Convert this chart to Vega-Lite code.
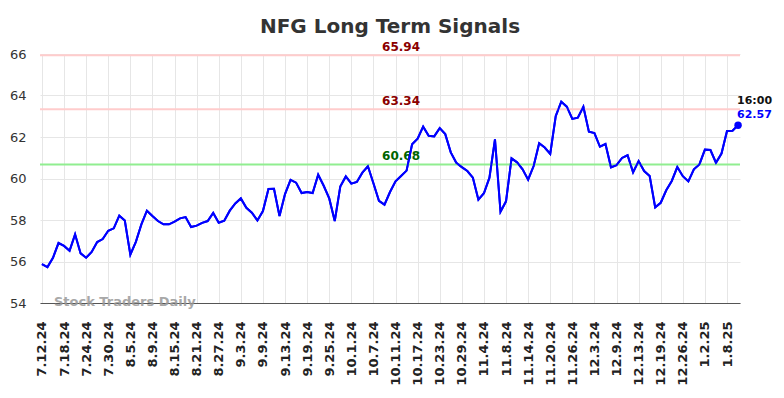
{
  "$schema": "https://vega.github.io/schema/vega-lite/v6.json",
  "width": 700,
  "height": 249,
  "autosize": {"type": "none"},
  "padding": {"left": 40, "top": 54, "right": 44, "bottom": 95},
  "background": "white",
  "title": {"text": "NFG Long Term Signals", "fontSize": 20, "font": "DejaVu Sans", "fontWeight": "bold", "color": "#333333", "anchor": "middle", "baseline": "alphabetic", "offset": -12},
  "config": {"view": {"stroke": null}, "font": "DejaVu Sans"},
  "datasets": {
    "prices": [
      {"d": "7.12.24", "v": 55.87}, {"d": "7.15.24", "v": 55.73}, {"d": "7.16.24", "v": 56.18}, {"d": "7.17.24", "v": 56.89},
      {"d": "7.18.24", "v": 56.75}, {"d": "7.19.24", "v": 56.52}, {"d": "7.22.24", "v": 57.31}, {"d": "7.23.24", "v": 56.39},
      {"d": "7.24.24", "v": 56.18}, {"d": "7.25.24", "v": 56.46}, {"d": "7.26.24", "v": 56.94}, {"d": "7.29.24", "v": 57.08},
      {"d": "7.30.24", "v": 57.48}, {"d": "7.31.24", "v": 57.60}, {"d": "8.1.24", "v": 58.21}, {"d": "8.2.24", "v": 57.97},
      {"d": "8.5.24", "v": 56.33}, {"d": "8.6.24", "v": 56.95}, {"d": "8.7.24", "v": 57.79}, {"d": "8.8.24", "v": 58.45},
      {"d": "8.9.24", "v": 58.19}, {"d": "8.12.24", "v": 57.95}, {"d": "8.13.24", "v": 57.79}, {"d": "8.14.24", "v": 57.79},
      {"d": "8.15.24", "v": 57.92}, {"d": "8.16.24", "v": 58.08}, {"d": "8.19.24", "v": 58.14}, {"d": "8.20.24", "v": 57.66},
      {"d": "8.21.24", "v": 57.73}, {"d": "8.22.24", "v": 57.86}, {"d": "8.23.24", "v": 57.95}, {"d": "8.26.24", "v": 58.34},
      {"d": "8.27.24", "v": 57.87}, {"d": "8.28.24", "v": 57.97}, {"d": "8.29.24", "v": 58.45}, {"d": "8.30.24", "v": 58.80},
      {"d": "9.3.24", "v": 59.04}, {"d": "9.4.24", "v": 58.59}, {"d": "9.5.24", "v": 58.35}, {"d": "9.6.24", "v": 57.98},
      {"d": "9.9.24", "v": 58.43}, {"d": "9.10.24", "v": 59.49}, {"d": "9.11.24", "v": 59.50}, {"d": "9.12.24", "v": 58.19},
      {"d": "9.13.24", "v": 59.25}, {"d": "9.16.24", "v": 59.93}, {"d": "9.17.24", "v": 59.80}, {"d": "9.18.24", "v": 59.30},
      {"d": "9.19.24", "v": 59.35}, {"d": "9.20.24", "v": 59.30}, {"d": "9.23.24", "v": 60.18}, {"d": "9.24.24", "v": 59.65},
      {"d": "9.25.24", "v": 59.04}, {"d": "9.26.24", "v": 57.95}, {"d": "9.27.24", "v": 59.61}, {"d": "9.30.24", "v": 60.10},
      {"d": "10.1.24", "v": 59.75}, {"d": "10.2.24", "v": 59.83}, {"d": "10.3.24", "v": 60.28}, {"d": "10.4.24", "v": 60.59},
      {"d": "10.7.24", "v": 59.77}, {"d": "10.8.24", "v": 58.92}, {"d": "10.9.24", "v": 58.74}, {"d": "10.10.24", "v": 59.35},
      {"d": "10.11.24", "v": 59.86}, {"d": "10.14.24", "v": 60.12}, {"d": "10.15.24", "v": 60.38}, {"d": "10.16.24", "v": 61.65},
      {"d": "10.17.24", "v": 61.92}, {"d": "10.18.24", "v": 62.50}, {"d": "10.21.24", "v": 62.06}, {"d": "10.22.24", "v": 62.03},
      {"d": "10.23.24", "v": 62.43}, {"d": "10.24.24", "v": 62.14}, {"d": "10.25.24", "v": 61.26}, {"d": "10.28.24", "v": 60.76},
      {"d": "10.29.24", "v": 60.55}, {"d": "10.30.24", "v": 60.36}, {"d": "10.31.24", "v": 60.04}, {"d": "11.1.24", "v": 58.98},
      {"d": "11.4.24", "v": 59.29}, {"d": "11.5.24", "v": 60.04}, {"d": "11.6.24", "v": 61.89}, {"d": "11.7.24", "v": 58.40},
      {"d": "11.8.24", "v": 58.90}, {"d": "11.11.24", "v": 60.97}, {"d": "11.12.24", "v": 60.78}, {"d": "11.13.24", "v": 60.44},
      {"d": "11.14.24", "v": 59.94}, {"d": "11.15.24", "v": 60.60}, {"d": "11.18.24", "v": 61.70}, {"d": "11.19.24", "v": 61.49},
      {"d": "11.20.24", "v": 61.18}, {"d": "11.21.24", "v": 63.01}, {"d": "11.22.24", "v": 63.70}, {"d": "11.25.24", "v": 63.46},
      {"d": "11.26.24", "v": 62.87}, {"d": "11.27.24", "v": 62.93}, {"d": "11.29.24", "v": 63.46}, {"d": "12.2.24", "v": 62.26},
      {"d": "12.3.24", "v": 62.19}, {"d": "12.4.24", "v": 61.53}, {"d": "12.5.24", "v": 61.66}, {"d": "12.6.24", "v": 60.54},
      {"d": "12.9.24", "v": 60.64}, {"d": "12.10.24", "v": 60.99}, {"d": "12.11.24", "v": 61.12}, {"d": "12.12.24", "v": 60.30},
      {"d": "12.13.24", "v": 60.84}, {"d": "12.16.24", "v": 60.36}, {"d": "12.17.24", "v": 60.12}, {"d": "12.18.24", "v": 58.61},
      {"d": "12.19.24", "v": 58.83}, {"d": "12.20.24", "v": 59.43}, {"d": "12.23.24", "v": 59.88}, {"d": "12.24.24", "v": 60.55},
      {"d": "12.26.24", "v": 60.11}, {"d": "12.27.24", "v": 59.86}, {"d": "12.30.24", "v": 60.44}, {"d": "12.31.24", "v": 60.68},
      {"d": "1.2.25", "v": 61.39}, {"d": "1.3.25", "v": 61.37}, {"d": "1.6.25", "v": 60.76}, {"d": "1.7.25", "v": 61.20},
      {"d": "1.8.25", "v": 62.29}, {"d": "1.10.25", "v": 62.30}, {"d": "1.13.25", "v": 62.57}
    ],
    "levels": [
      {"value": 65.94, "label": "65.94", "kind": "upper"},
      {"value": 63.34, "label": "63.34", "kind": "middle"},
      {"value": 60.68, "label": "60.68", "kind": "lower"}
    ]
  },
  "layer": [
    {
      "data": {"name": "prices"},
      "mark": {"type": "line", "color": "#0000ff", "strokeWidth": 2},
      "encoding": {
        "x": {
          "field": "d", "type": "ordinal", "sort": null,
          "scale": {"type": "point", "padding": 0.35},
          "axis": {
            "title": null,
            "values": ["7.12.24", "7.18.24", "7.24.24", "7.30.24", "8.5.24", "8.9.24", "8.15.24", "8.21.24", "8.27.24", "9.3.24", "9.9.24", "9.13.24", "9.19.24", "9.25.24", "10.1.24", "10.7.24", "10.11.24", "10.17.24", "10.23.24", "10.29.24", "11.4.24", "11.8.24", "11.14.24", "11.20.24", "11.26.24", "12.3.24", "12.9.24", "12.13.24", "12.19.24", "12.26.24", "1.2.25", "1.8.25"],
            "labelAngle": -90, "labelFontSize": 13, "labelFontWeight": "bold", "labelColor": "#222222",
            "labelPadding": 18, "ticks": false, "domainColor": "#555555", "domainWidth": 1.2,
            "grid": true, "gridColor": "#e6e6e6", "labelFont": "DejaVu Sans"
          }
        },
        "y": {
          "field": "v", "type": "quantitative",
          "scale": {"domain": [54, 66], "nice": false, "zero": false},
          "axis": {
            "title": null, "values": [54, 56, 58, 60, 62, 64, 66], "ticks": false, "domain": false,
            "labelPadding": 14, "labelFontSize": 13, "labelColor": "#333333", "gridColor": "#e6e6e6", "labelFont": "DejaVu Sans"
          }
        }
      }
    },
    {
      "data": {"name": "levels"},
      "mark": {"type": "rule", "strokeWidth": 2},
      "encoding": {
        "y": {"field": "value", "type": "quantitative"},
        "stroke": {"field": "kind", "type": "nominal", "scale": {"domain": ["upper", "middle", "lower"], "range": ["#ffcccc", "#ffcccc", "#90ee90"]}, "legend": null}
      }
    },
    {
      "data": {"name": "levels"},
      "mark": {"type": "text", "fontSize": 12, "fontWeight": "bold", "dy": -8, "baseline": "middle", "align": "center"},
      "encoding": {
        "x": {"datum": "10.14.24"},
        "y": {"field": "value", "type": "quantitative"},
        "text": {"field": "label"},
        "fill": {"field": "kind", "type": "nominal", "scale": {"domain": ["upper", "middle", "lower"], "range": ["#8b0000", "#8b0000", "#006400"]}, "legend": null}
      }
    },
    {
      "data": {"name": "prices"},
      "mark": {"type": "line", "color": "#0000ff", "strokeWidth": 2},
      "encoding": {
        "x": {"field": "d", "type": "ordinal", "sort": null},
        "y": {"field": "v", "type": "quantitative"}
      }
    },
    {
      "data": {"values": [{"t": "Stock Traders Daily"}]},
      "mark": {"type": "text", "fontSize": 13, "fontWeight": "bold", "align": "left", "baseline": "middle", "dx": 1, "dy": -1, "fill": "#999999", "opacity": 0.85},
      "encoding": {
        "x": {"datum": "7.16.24"},
        "y": {"datum": 54},
        "text": {"field": "t"}
      }
    },
    {
      "data": {"name": "prices"},
      "transform": [{"filter": "datum.d === '1.13.25'"}],
      "mark": {"type": "point", "filled": true, "size": 55, "color": "#0000ff", "opacity": 1},
      "encoding": {
        "x": {"field": "d", "type": "ordinal", "sort": null},
        "y": {"field": "v", "type": "quantitative"}
      }
    },
    {
      "data": {"name": "prices"},
      "transform": [{"filter": "datum.d === '1.13.25'"}],
      "mark": {"type": "text", "fontSize": 11, "fontWeight": "bold", "align": "left", "baseline": "middle", "dx": -1, "dy": -10, "fill": "#0000ff"},
      "encoding": {
        "x": {"field": "d", "type": "ordinal", "sort": null},
        "y": {"field": "v", "type": "quantitative"},
        "text": {"field": "v", "format": ".2f"}
      }
    },
    {
      "data": {"name": "prices"},
      "transform": [{"filter": "datum.d === '1.13.25'"}],
      "mark": {"type": "text", "fontSize": 11, "fontWeight": "bold", "align": "left", "baseline": "middle", "dx": -1, "dy": -24, "fill": "#111111"},
      "encoding": {
        "x": {"field": "d", "type": "ordinal", "sort": null},
        "y": {"field": "v", "type": "quantitative"},
        "text": {"value": "16:00"}
      }
    }
  ]
}
